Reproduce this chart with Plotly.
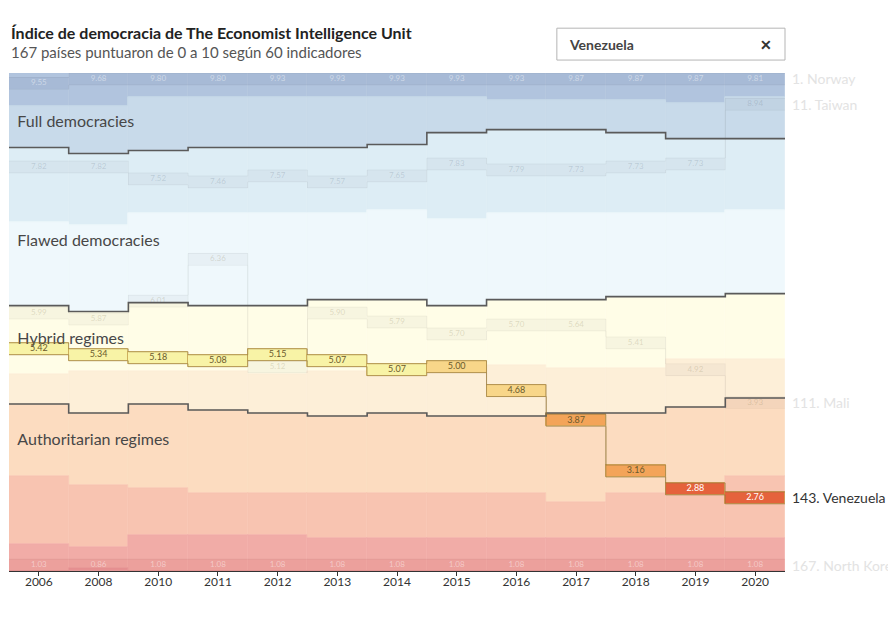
import plotly.graph_objects as go

# ---- data -----------------------------------------------------------------
years = ["2006", "2008", "2010", "2011", "2012", "2013", "2014",
         "2015", "2016", "2017", "2018", "2019", "2020"]

# number of countries per score band (167 countries every year), top to bottom
bin_9_10 = [11, 11, 8, 8, 8, 8, 8, 8, 9, 9, 9, 10, 8]
bin_8_9 = [14, 16, 18, 17, 17, 17, 16, 12, 10, 10, 11, 12, 14]
bin_7_8 = [25, 24, 21, 22, 22, 22, 22, 29, 28, 28, 27, 25, 24]
bin_6_7 = [28, 29, 30, 31, 31, 29, 30, 29, 29, 29, 28, 28, 28]
bin_5_6 = [23, 20, 23, 22, 23, 24, 24, 22, 22, 23, 24, 21, 22]
bin_4_5 = [10, 14, 11, 13, 13, 15, 14, 15, 17, 15, 15, 16, 13]
bin_3_4 = [24, 24, 28, 28, 27, 26, 27, 26, 26, 30, 27, 27, 26]
bin_2_3 = [23, 21, 16, 14, 14, 15, 15, 15, 15, 12, 15, 17, 21]
bin_1_2 = [9, 7, 12, 12, 12, 11, 11, 11, 11, 11, 11, 11, 11]
bin_0_1 = [0, 1, 0, 0, 0, 0, 0, 0, 0, 0, 0, 0, 0]

regimes = ["Full democracies", "Flawed democracies", "Hybrid regimes", "Authoritarian regimes"]

norway_rank = [4, 2, 1, 1, 1, 1, 1, 1, 1, 1, 1, 1, 1]
norway_score = [9.55, 9.68, 9.80, 9.80, 9.93, 9.93, 9.93, 9.93, 9.93, 9.87, 9.87, 9.87, 9.81]
taiwan_rank = [32, 32, 36, 37, 35, 37, 35, 31, 33, 33, 32, 31, 11]
taiwan_score = [7.82, 7.82, 7.52, 7.46, 7.57, 7.57, 7.65, 7.83, 7.79, 7.73, 7.73, 7.73, 8.94]
mali_rank = [81, 83, 77, 63, 99, 81, 84, 88, 85, 85, 91, 100, 111]
mali_score = [5.99, 5.87, 6.01, 6.36, 5.12, 5.90, 5.79, 5.70, 5.70, 5.64, 5.41, 4.92, 3.93]
venezuela_rank = [93, 95, 96, 97, 95, 97, 100, 99, 107, 117, 134, 140, 143]
venezuela_score = [5.42, 5.34, 5.18, 5.08, 5.15, 5.07, 5.07, 5.00, 4.68, 3.87, 3.16, 2.88, 2.76]
nkorea_rank = [167, 167, 167, 167, 167, 167, 167, 167, 167, 167, 167, 167, 167]
nkorea_score = [1.03, 0.86, 1.08, 1.08, 1.08, 1.08, 1.08, 1.08, 1.08, 1.08, 1.08, 1.08, 1.08]

# ---- styles ---------------------------------------------------------------
FONT = "Lato, 'Open Sans', sans-serif"
bins = [bin_9_10, bin_8_9, bin_7_8, bin_6_7, bin_5_6, bin_4_5, bin_3_4, bin_2_3, bin_1_2, bin_0_1]
bin_colors = ["#b1c4de", "#c8daea", "#ddedf5", "#eff8fc", "#fffde7",
              "#fdefd8", "#fcdcc0", "#f8c4b1", "#f1aca7", "#ea9a9b"]
N = 167
BOX_H = 4  # rows taken by a highlighted country's box
idx = list(range(len(years)))
xs_edge = [i - 0.5 for i in idx] + [idx[-1] + 0.5]

fig = go.Figure()

# stacked score bands
cum = [0] * len(years)
tops = []
for counts, col in zip(bins, bin_colors):
    tops.append(list(cum))
    fig.add_trace(go.Bar(
        x=idx, y=counts, base=list(cum), width=1,
        marker=dict(color=col, line=dict(width=0.6, color=col)),
        hoverinfo="skip", showlegend=False
    ))
    cum = [c + n for c, n in zip(cum, counts)]

# regime labels (drawn under the highlighted boxes)
label_rows = [16.8, 56.7, 89.4, 123.5]
fig.add_trace(go.Scatter(
    x=[-0.36] * 4, y=label_rows, text=regimes, mode="text",
    textposition="middle right",
    textfont=dict(family=FONT, size=16, color="#474747"),
    hoverinfo="skip", showlegend=False
))


def box_top(rank):
    return min(max(rank - 0.5 - BOX_H / 2, 0), N - BOX_H)


def add_country(ranks, scores, fill, line, text_color, bar_line, text_size, line_w=1):
    b = [box_top(r) for r in ranks]
    for edge in (b, [v + BOX_H for v in b]):
        fig.add_trace(go.Scatter(
            x=xs_edge, y=edge + [edge[-1]], mode="lines", line_shape="hv",
            line=dict(color=line, width=line_w), hoverinfo="skip", showlegend=False
        ))
    fig.add_trace(go.Bar(
        x=idx, y=[BOX_H] * len(idx), base=b, width=1,
        marker=dict(color=fill, line=bar_line),
        hoverinfo="skip", showlegend=False
    ))
    fig.add_trace(go.Scatter(
        x=idx, y=[v + BOX_H / 2 for v in b], mode="text",
        text=[f"{s:.2f}" for s in scores],
        textfont=dict(family=FONT, size=text_size, color=text_color),
        hoverinfo="skip", showlegend=False
    ))


faint_fill = "rgba(20,30,60,0.035)"
faint_line = "rgba(0,0,0,0.045)"
no_line = dict(width=0)
add_country(norway_rank, norway_score, "rgba(40,60,120,0.07)", faint_line,
            "rgba(255,255,255,0.45)", no_line, 8)
add_country(taiwan_rank, taiwan_score, faint_fill, faint_line,
            "rgba(90,110,130,0.22)", no_line, 8)
add_country(mali_rank, mali_score, faint_fill, faint_line,
            "rgba(140,130,90,0.25)", no_line, 8)
add_country(nkorea_rank, nkorea_score, "rgba(200,60,60,0.10)", faint_line,
            "rgba(255,255,255,0.45)", no_line, 8)

# regime boundaries: after 8-9, after 6-7, after 4-5
for e in [tops[2], tops[4], tops[6]]:
    fig.add_trace(go.Scatter(
        x=xs_edge, y=e + [e[-1]], mode="lines", line_shape="hv",
        line=dict(color="#5a5a5a", width=1.6), hoverinfo="skip", showlegend=False
    ))


def ven_color(s):
    if s > 5:
        return "#f8f3a6"
    if s > 4:
        return "#f8d689"
    if s > 3:
        return "#f3a459"
    return "#e5623c"


add_country(venezuela_rank, venezuela_score,
            [ven_color(s) for s in venezuela_score], "rgba(150,120,60,0.55)",
            ["#ffffff" if s < 3 else "#6b5a2c" for s in venezuela_score],
            dict(width=1, color="rgba(190,150,60,0.6)"), 9)

# right-hand labels with the 2020 rank
names = ["Norway", "Taiwan", "Mali", "Venezuela", "North Korea"]
last_ranks = [norway_rank[-1], taiwan_rank[-1], mali_rank[-1], venezuela_rank[-1], nkorea_rank[-1]]
for name, r in zip(names, last_ranks):
    fig.add_annotation(
        x=idx[-1] + 0.5, y=box_top(r) + BOX_H / 2, xref="x", yref="y",
        text=f"{r}. {name}", showarrow=False, xanchor="left", xshift=5,
        font=dict(family=FONT, size=14, color="#333333" if name == "Venezuela" else "#e3e3e3")
    )

# title / subtitle
fig.add_annotation(x=0, y=1.082, xref="paper", yref="paper", xanchor="left", yanchor="middle",
                   text="<b>Índice de democracia de The Economist Intelligence Unit</b>",
                   showarrow=False, font=dict(family=FONT, size=16, color="#222"))
fig.add_annotation(x=0, y=1.042, xref="paper", yref="paper", xanchor="left", yanchor="middle",
                   text="167 países puntuaron de 0 a 10 según 60 indicadores",
                   showarrow=False, font=dict(family=FONT, size=15, color="#555"))

# search box
fig.add_shape(type="rect", xref="paper", yref="paper", x0=0.706, x1=1.0, y0=1.026, y1=1.090,
              line=dict(color="#b5b5b5", width=1), fillcolor="white")
fig.add_annotation(x=0.719, y=1.058, xref="paper", yref="paper", xanchor="left", yanchor="middle",
                   text="<b>Venezuela</b>", showarrow=False,
                   font=dict(family=FONT, size=14, color="#444"))
fig.add_annotation(x=0.975, y=1.058, xref="paper", yref="paper", xanchor="center", yanchor="middle",
                   text="<b>✕</b>", showarrow=False,
                   font=dict(family=FONT, size=14, color="#333"))

# page body has an 8px margin, so the figure is sized to fit inside it
fig.update_layout(
    width=880, height=602,
    margin=dict(l=1, r=103, t=65, b=39),
    barmode="overlay", bargap=0,
    plot_bgcolor="white", paper_bgcolor="white",
    font=dict(family=FONT),
    xaxis=dict(range=[-0.5, idx[-1] + 0.5], tickvals=idx, ticktext=years,
               ticks="outside", ticklen=4, tickcolor="#333", showline=True,
               linecolor="#333", linewidth=1, showgrid=False, zeroline=False,
               ticklabelstandoff=-4,
               tickfont=dict(family=FONT, size=12, color="#333")),
    yaxis=dict(range=[N, 0], visible=False, showgrid=False, zeroline=False),
    showlegend=False
)

fig.write_html("out.html")
